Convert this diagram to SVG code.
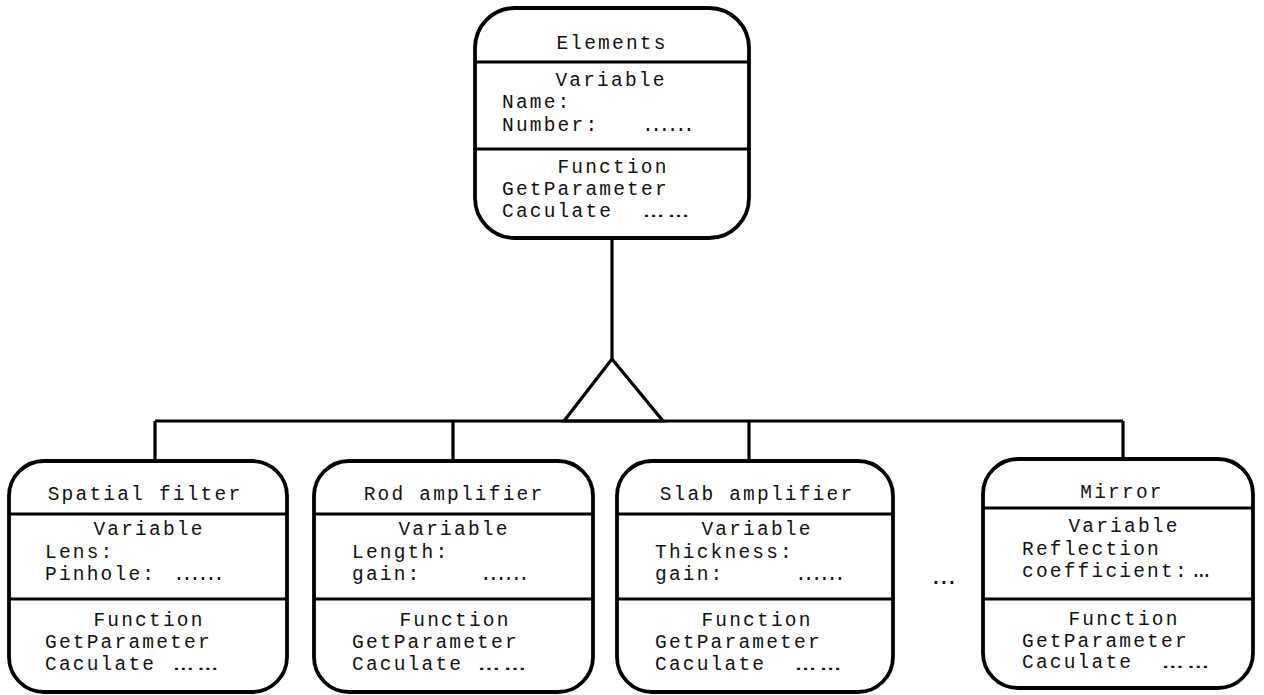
<svg xmlns="http://www.w3.org/2000/svg" width="1264" height="695" viewBox="0 0 1264 695">
<style>
.box{fill:#fff;stroke:#000;stroke-width:3.8}
.div{stroke:#000;stroke-width:3.2}
.t{font-family:"Liberation Mono","DejaVu Sans Mono",monospace;font-size:19.5px;fill:#111;letter-spacing:2.2px}
.c{text-anchor:middle}
.con{fill:none;stroke:#000;stroke-width:3.2;stroke-linejoin:miter}
</style>
<rect width="1264" height="695" fill="#fff"/>
<g id="connectors">
<line class="con" x1="612" y1="238" x2="612" y2="359"/>
<polygon class="con" points="612,359 564,421 663,421"/>
<line class="con" x1="155" y1="421" x2="1123" y2="421"/>
<line class="con" x1="155" y1="421" x2="155" y2="461"/>
<line class="con" x1="453" y1="421" x2="453" y2="461"/>
<line class="con" x1="749" y1="421" x2="749" y2="461"/>
<line class="con" x1="1123" y1="421" x2="1123" y2="459"/>
</g>
<g id="elements">
<rect class="box" x="475" y="8" width="274" height="230" rx="40"/>
<line class="div" x1="475" y1="62" x2="749" y2="62"/>
<line class="div" x1="475" y1="149" x2="749" y2="149"/>
<text class="t c" x="612" y="49">Elements</text>
<text class="t c" x="611" y="86">Variable</text>
<text class="t" x="502" y="108">Name:</text>
<text class="t" x="502" y="131">Number:<tspan x="642" textLength="55" lengthAdjust="spacing">......</tspan></text>
<text class="t c" x="613" y="173">Function</text>
<text class="t" x="502" y="195">GetParameter</text>
<text class="t" x="502" y="217">Caculate<tspan x="643" textLength="50" lengthAdjust="spacingAndGlyphs">……</tspan></text>
</g>
<g id="spatial-filter">
<rect class="box" x="9" y="461" width="278" height="231" rx="35"/>
<line class="div" x1="9" y1="514" x2="287" y2="514"/>
<line class="div" x1="9" y1="599" x2="287" y2="599"/>
<text class="t c" x="145" y="500">Spatial filter</text>
<text class="t c" x="149" y="535">Variable</text>
<text class="t" x="45" y="558">Lens:</text>
<text class="t" x="45" y="580">Pinhole:<tspan x="173" textLength="54" lengthAdjust="spacing">......</tspan></text>
<text class="t c" x="149" y="626">Function</text>
<text class="t" x="45" y="648">GetParameter</text>
<text class="t" x="45" y="670">Caculate<tspan x="173" textLength="49" lengthAdjust="spacingAndGlyphs">……</tspan></text>
</g>
<g id="rod-amplifier">
<rect class="box" x="314" y="461" width="279" height="231" rx="35"/>
<line class="div" x1="314" y1="514" x2="593" y2="514"/>
<line class="div" x1="314" y1="599" x2="593" y2="599"/>
<text class="t c" x="454" y="500">Rod amplifier</text>
<text class="t c" x="454" y="535">Variable</text>
<text class="t" x="352" y="558">Length:</text>
<text class="t" x="352" y="580">gain:<tspan x="480" textLength="52" lengthAdjust="spacing">......</tspan></text>
<text class="t c" x="455" y="626">Function</text>
<text class="t" x="352" y="648">GetParameter</text>
<text class="t" x="352" y="670">Caculate<tspan x="478" textLength="52" lengthAdjust="spacingAndGlyphs">……</tspan></text>
</g>
<g id="slab-amplifier">
<rect class="box" x="617" y="461" width="276" height="231" rx="35"/>
<line class="div" x1="617" y1="514" x2="893" y2="514"/>
<line class="div" x1="617" y1="599" x2="893" y2="599"/>
<text class="t c" x="757" y="500">Slab amplifier</text>
<text class="t c" x="757" y="535">Variable</text>
<text class="t" x="655" y="558">Thickness:</text>
<text class="t" x="655" y="580">gain:<tspan x="795" textLength="53" lengthAdjust="spacing">......</tspan></text>
<text class="t c" x="757" y="626">Function</text>
<text class="t" x="655" y="648">GetParameter</text>
<text class="t" x="655" y="670">Caculate<tspan x="795" textLength="50" lengthAdjust="spacingAndGlyphs">……</tspan></text>
</g>
<g id="ellipsis">
<text class="t" x="930" y="584" font-weight="bold" textLength="30" lengthAdjust="spacing">...</text>
</g>
<g id="mirror">
<rect class="box" x="983" y="459" width="270" height="229" rx="35"/>
<line class="div" x1="983" y1="508" x2="1253" y2="508"/>
<line class="div" x1="983" y1="599" x2="1253" y2="599"/>
<text class="t c" x="1122" y="498">Mirror</text>
<text class="t c" x="1124" y="532">Variable</text>
<text class="t" x="1022" y="555">Reflection</text>
<text class="t" x="1022" y="577">coefficient:<tspan x="1190" textLength="25" lengthAdjust="spacing">...</tspan></text>
<text class="t c" x="1124" y="625">Function</text>
<text class="t" x="1022" y="647">GetParameter</text>
<text class="t" x="1022" y="668">Caculate<tspan x="1162" textLength="51" lengthAdjust="spacingAndGlyphs">……</tspan></text>
</g>
</svg>
